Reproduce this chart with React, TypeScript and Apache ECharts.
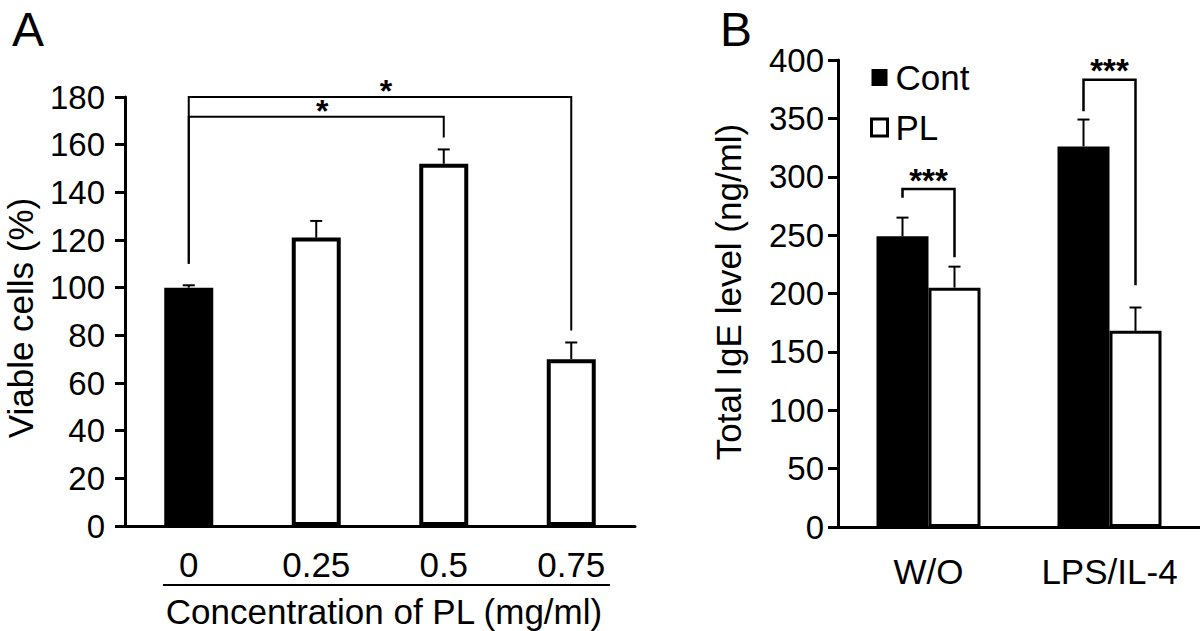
import React, { useEffect, useRef } from 'react';
import * as echarts from 'echarts';

// ---------- Panel A data ----------
const concentrations = ['0', '0.25', '0.5', '0.75'];
const viableCells = [100, 121, 152, 70];
const viableCellsErr = [1, 7, 6, 7];
const viableControlIndex = 0;
const yMaxA = 180;
const yStepA = 20;
// significance brackets: [fromIndex, toIndex, leftBottom, top, rightBottom]
const sigA = [
  [0, 3, 110, 180, 82],
  [0, 2, 110, 171.7, 163],
];
const sigALabels = ['*', '*'];

// ---------- Panel B data ----------
const treatments = ['W/O', 'LPS/IL-4'];
const contIgE = [249, 326];
const contIgEErr = [16, 23];
const plIgE = [205, 168];
const plIgEErr = [18, 20];
const yMaxB = 400;
const yStepB = 50;
// significance brackets: [groupIndex, contBottom, top, plBottom]
const sigB = [
  [0, 282, 289.5, 231],
  [1, 356, 383, 207],
];
const sigBLabels = ['***', '***'];

const FONT = '"Liberation Sans", Arial, Helvetica, sans-serif';
const FS = 33;
const FS_BIG = 35;
const BAR_W_B = 52;

function errorRenderer(offset: number, lw: number, cap: number) {
  return (params: any, api: any) => {
    const x = api.value(0);
    const v = api.value(1);
    const e = api.value(2);
    const p0 = api.coord([x, v]);
    const p1 = api.coord([x, v + e]);
    const cx = p0[0] + offset;
    return {
      type: 'group',
      children: [
        { type: 'line', shape: { x1: cx, y1: p0[1], x2: cx, y2: p1[1] }, style: { stroke: '#000', lineWidth: lw } },
        { type: 'line', shape: { x1: cx - cap / 2, y1: p1[1], x2: cx + cap / 2, y2: p1[1] }, style: { stroke: '#000', lineWidth: lw } },
      ],
    };
  };
}

export default function App() {
  const ref = useRef<HTMLDivElement>(null);
  useEffect(() => {
    if (!ref.current) return;
    const chart = echarts.init(ref.current, undefined, { renderer: 'svg' });

    const axisLine = { show: true, lineStyle: { color: '#000', width: 3 } };
    const labelStyle = { color: '#000', fontSize: FS, fontFamily: FONT };

    const option: any = {
      animation: false,
      backgroundColor: '#fff',
      textStyle: { fontFamily: FONT, color: '#000' },
      grid: [
        { left: 125, top: 97, width: 510, height: 429 },
        { left: 838, top: 60, width: 362, height: 467 },
      ],
      legend: {
        orient: 'vertical',
        left: 865,
        top: 55,
        itemWidth: 16,
        itemHeight: 17,
        itemGap: 15,
        icon: 'rect',
        textStyle: { fontSize: FS_BIG, fontFamily: FONT, color: '#000', padding: [0, 0, 0, 3] },
        data: [
          { name: 'Cont', itemStyle: { color: '#000', borderColor: '#000', borderWidth: 0 } },
          { name: 'PL', itemStyle: { color: '#fff', borderColor: '#000', borderWidth: 3 } },
        ],
      },
      xAxis: [
        {
          gridIndex: 0,
          type: 'category',
          data: concentrations,
          axisLine,
          axisTick: { show: false },
          axisLabel: { ...labelStyle, fontSize: FS_BIG, margin: 21 },
        },
        {
          gridIndex: 1,
          type: 'category',
          data: treatments,
          axisLine,
          axisTick: { show: false },
          axisLabel: { ...labelStyle, fontSize: FS_BIG, margin: 27 },
        },
      ],
      yAxis: [
        {
          gridIndex: 0,
          type: 'value',
          min: 0,
          max: yMaxA,
          interval: yStepA,
          axisLine,
          axisTick: { show: true, length: 10, lineStyle: { color: '#000', width: 3 } },
          axisLabel: { ...labelStyle, margin: 20 },
          splitLine: { show: false },
        },
        {
          gridIndex: 1,
          type: 'value',
          min: 0,
          max: yMaxB,
          interval: yStepB,
          axisLine,
          axisTick: { show: true, length: 10, lineStyle: { color: '#000', width: 3 } },
          axisLabel: { ...labelStyle, margin: 14 },
          splitLine: { show: false },
        },
      ],
      series: [
        {
          name: 'Viable cells',
          type: 'bar',
          xAxisIndex: 0,
          yAxisIndex: 0,
          barWidth: 49,
          data: viableCells.map((v, i) => ({
            value: v,
            itemStyle:
              i === viableControlIndex
                ? { color: '#000', borderColor: '#000', borderWidth: 4 }
                : { color: '#fff', borderColor: '#000', borderWidth: 4 },
          })),
        },
        {
          type: 'custom',
          xAxisIndex: 0,
          yAxisIndex: 0,
          clip: false,
          z: 5,
          encode: { x: 0, y: 1 },
          data: viableCells.map((v, i) => [i, v, viableCellsErr[i]]),
          renderItem: errorRenderer(0, 2, 12),
        },
        {
          type: 'custom',
          xAxisIndex: 0,
          yAxisIndex: 0,
          clip: false,
          z: 5,
          encode: { x: 0, y: 3 },
          data: sigA.map((r) => r.slice()),
          renderItem: (params: any, api: any) => {
            const a = api.coord([api.value(0), api.value(2)]);
            const t1 = api.coord([api.value(0), api.value(3)]);
            const t2 = api.coord([api.value(1), api.value(3)]);
            const b = api.coord([api.value(1), api.value(4)]);
            return {
              type: 'group',
              children: [
                {
                  type: 'polyline',
                  shape: { points: [a, t1, t2, b] },
                  style: { stroke: '#000', lineWidth: 2, fill: 'none' },
                },
                {
                  type: 'text',
                  x: (t1[0] + t2[0]) / 2 + 6,
                  y: t1[1] - 6,
                  style: {
                    text: sigALabels[params.dataIndex],
                    fontSize: 32,
                    fontWeight: 'bold',
                    fontFamily: FONT,
                    fill: '#000',
                    align: 'center',
                    verticalAlign: 'middle',
                  },
                },
              ],
            };
          },
        },
        {
          name: 'Cont',
          type: 'bar',
          xAxisIndex: 1,
          yAxisIndex: 1,
          barWidth: BAR_W_B,
          barGap: '0%',
          itemStyle: { color: '#000' },
          data: contIgE,
        },
        {
          name: 'PL',
          type: 'bar',
          xAxisIndex: 1,
          yAxisIndex: 1,
          barWidth: BAR_W_B,
          barGap: '0%',
          itemStyle: { color: '#fff', borderColor: '#000', borderWidth: 3 },
          data: plIgE,
        },
        {
          type: 'custom',
          xAxisIndex: 1,
          yAxisIndex: 1,
          clip: false,
          z: 5,
          encode: { x: 0, y: 1 },
          data: contIgE.map((v, i) => [i, v, contIgEErr[i]]),
          renderItem: errorRenderer(-BAR_W_B / 2, 2, 12),
        },
        {
          type: 'custom',
          xAxisIndex: 1,
          yAxisIndex: 1,
          clip: false,
          z: 5,
          encode: { x: 0, y: 1 },
          data: plIgE.map((v, i) => [i, v, plIgEErr[i]]),
          renderItem: errorRenderer(BAR_W_B / 2, 2, 12),
        },
        {
          type: 'custom',
          xAxisIndex: 1,
          yAxisIndex: 1,
          clip: false,
          z: 5,
          encode: { x: 0, y: 2 },
          data: sigB.map((r) => r.slice()),
          renderItem: (params: any, api: any) => {
            const g = api.value(0);
            const a = api.coord([g, api.value(1)]);
            const t = api.coord([g, api.value(2)]);
            const b = api.coord([g, api.value(3)]);
            const xl = t[0] - BAR_W_B / 2;
            const xr = t[0] + BAR_W_B / 2;
            return {
              type: 'group',
              children: [
                {
                  type: 'polyline',
                  shape: { points: [[xl, a[1]], [xl, t[1]], [xr, t[1]], [xr, b[1]]] },
                  style: { stroke: '#000', lineWidth: 2.5, fill: 'none' },
                },
                {
                  type: 'text',
                  x: t[0],
                  y: t[1] - 9,
                  style: {
                    text: sigBLabels[params.dataIndex],
                    fontSize: FS,
                    fontWeight: 'bold',
                    fontFamily: FONT,
                    fill: '#000',
                    align: 'center',
                    verticalAlign: 'middle',
                  },
                },
              ],
            };
          },
        },
      ],
      graphic: [
        {
          type: 'text',
          x: 12,
          y: 29,
          style: { text: 'A', fontSize: 48, fontFamily: FONT, fill: '#000', verticalAlign: 'middle' },
        },
        {
          type: 'text',
          x: 720,
          y: 29,
          style: { text: 'B', fontSize: 48, fontFamily: FONT, fill: '#000', verticalAlign: 'middle' },
        },
        {
          type: 'text',
          x: 20,
          y: 318,
          rotation: Math.PI / 2,
          style: {
            text: 'Viable cells (%)',
            fontSize: FS_BIG,
            fontFamily: FONT,
            fill: '#000',
            align: 'center',
            verticalAlign: 'middle',
          },
        },
        {
          type: 'text',
          x: 728,
          y: 292,
          rotation: Math.PI / 2,
          style: {
            text: 'Total IgE level (ng/ml)',
            fontSize: FS_BIG,
            fontFamily: FONT,
            fill: '#000',
            align: 'center',
            verticalAlign: 'middle',
          },
        },
        {
          type: 'line',
          shape: { x1: 163, y1: 585, x2: 610, y2: 585 },
          style: { stroke: '#000', lineWidth: 2 },
        },
        {
          type: 'text',
          x: 384,
          y: 611,
          style: {
            text: 'Concentration of PL (mg/ml)',
            fontSize: FS_BIG,
            fontFamily: FONT,
            fill: '#000',
            align: 'center',
            verticalAlign: 'middle',
          },
        },
      ],
    };

    chart.setOption(option);
    return () => chart.dispose();
  }, []);

  return (
    <div
      ref={ref}
      style={{ position: 'absolute', left: 0, top: 0, width: 1200, height: 631, background: '#fff' }}
    />
  );
}
